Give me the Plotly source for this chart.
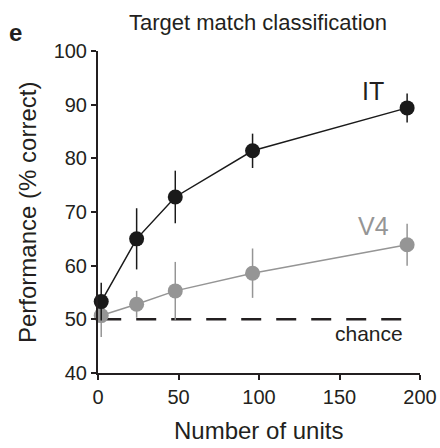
import plotly.graph_objects as go

# Decoding performance vs. population size
n_units = [2, 24, 48, 96, 192]
it_perf = [53.3, 65.0, 72.8, 81.4, 89.4]
it_err = [3.5, 5.7, 4.9, 3.2, 2.7]
v4_perf = [50.7, 52.8, 55.3, 58.6, 63.9]
v4_err = [4.0, 2.5, 5.4, 4.6, 3.9]
chance_level = 50
x_ticks = [0, 50, 100, 150, 200]
y_ticks = [40, 50, 60, 70, 80, 90, 100]

W, H = 440, 448
L, R, T, B = 98, 20, 51, 75
FONT = "Liberation Sans, Arial, Helvetica, sans-serif"
INK = "#231f20"
GRAY = "#959595"


def px(x, y):
    """Pixel position -> paper coordinates."""
    return (x - L) / (W - L - R), (H - B - y) / (H - T - B)


fig = go.Figure()

fig.add_trace(go.Scatter(
    x=[n_units[0], n_units[-1]], y=[chance_level, chance_level],
    mode="lines", line=dict(color=INK, width=2.5, dash="20px,15px"),
    hoverinfo="skip", showlegend=False,
))

fig.add_trace(go.Scatter(
    x=n_units, y=v4_perf, mode="lines+markers",
    line=dict(color=GRAY, width=1.5),
    marker=dict(color=GRAY, size=15),
    error_y=dict(type="data", array=v4_err, color=GRAY, thickness=1.5, width=0),
    cliponaxis=False, showlegend=False,
))

fig.add_trace(go.Scatter(
    x=n_units, y=it_perf, mode="lines+markers",
    line=dict(color="#1a1a1a", width=1.5),
    marker=dict(color="#1a1a1a", size=15),
    error_y=dict(type="data", array=it_err, color="#1a1a1a", thickness=1.5, width=0),
    cliponaxis=False, showlegend=False,
))

axis_common = dict(
    showline=True, linecolor=INK, linewidth=2,
    ticks="outside", ticklen=5, tickwidth=2, tickcolor=INK,
    showgrid=False, zeroline=False, automargin=False,
    tickfont=dict(family=FONT, size=20, color=INK),
)
fig.update_xaxes(range=[0, 200], tickvals=x_ticks, **axis_common)
fig.update_yaxes(range=[40, 100], tickvals=y_ticks, **axis_common)


def label(text, x, y, size, color=INK, angle=0, bold=False, xanchor="center"):
    xp, yp = px(x, y)
    fig.add_annotation(
        text=f"<b>{text}</b>" if bold else text,
        x=xp, y=yp, xref="paper", yref="paper",
        xanchor=xanchor, yanchor="middle", showarrow=False, textangle=angle,
        font=dict(family=FONT, size=size, color=color),
    )


label("Target match classification", 258, 22, 22)
label("e", 15, 32, 24, bold=True)
label("IT", 373, 91, 25)
label("V4", 373, 226, 25, color=GRAY)
label("chance", 405, 333, 21, xanchor="right")
label("Number of units", 258, 430, 24)
label("Performance (% correct)", 28, 213, 24, angle=-90)

fig.update_layout(
    width=W, height=H,
    margin=dict(l=L, r=R, t=T, b=B),
    paper_bgcolor="white", plot_bgcolor="white",
)

fig.write_html("out.html")
